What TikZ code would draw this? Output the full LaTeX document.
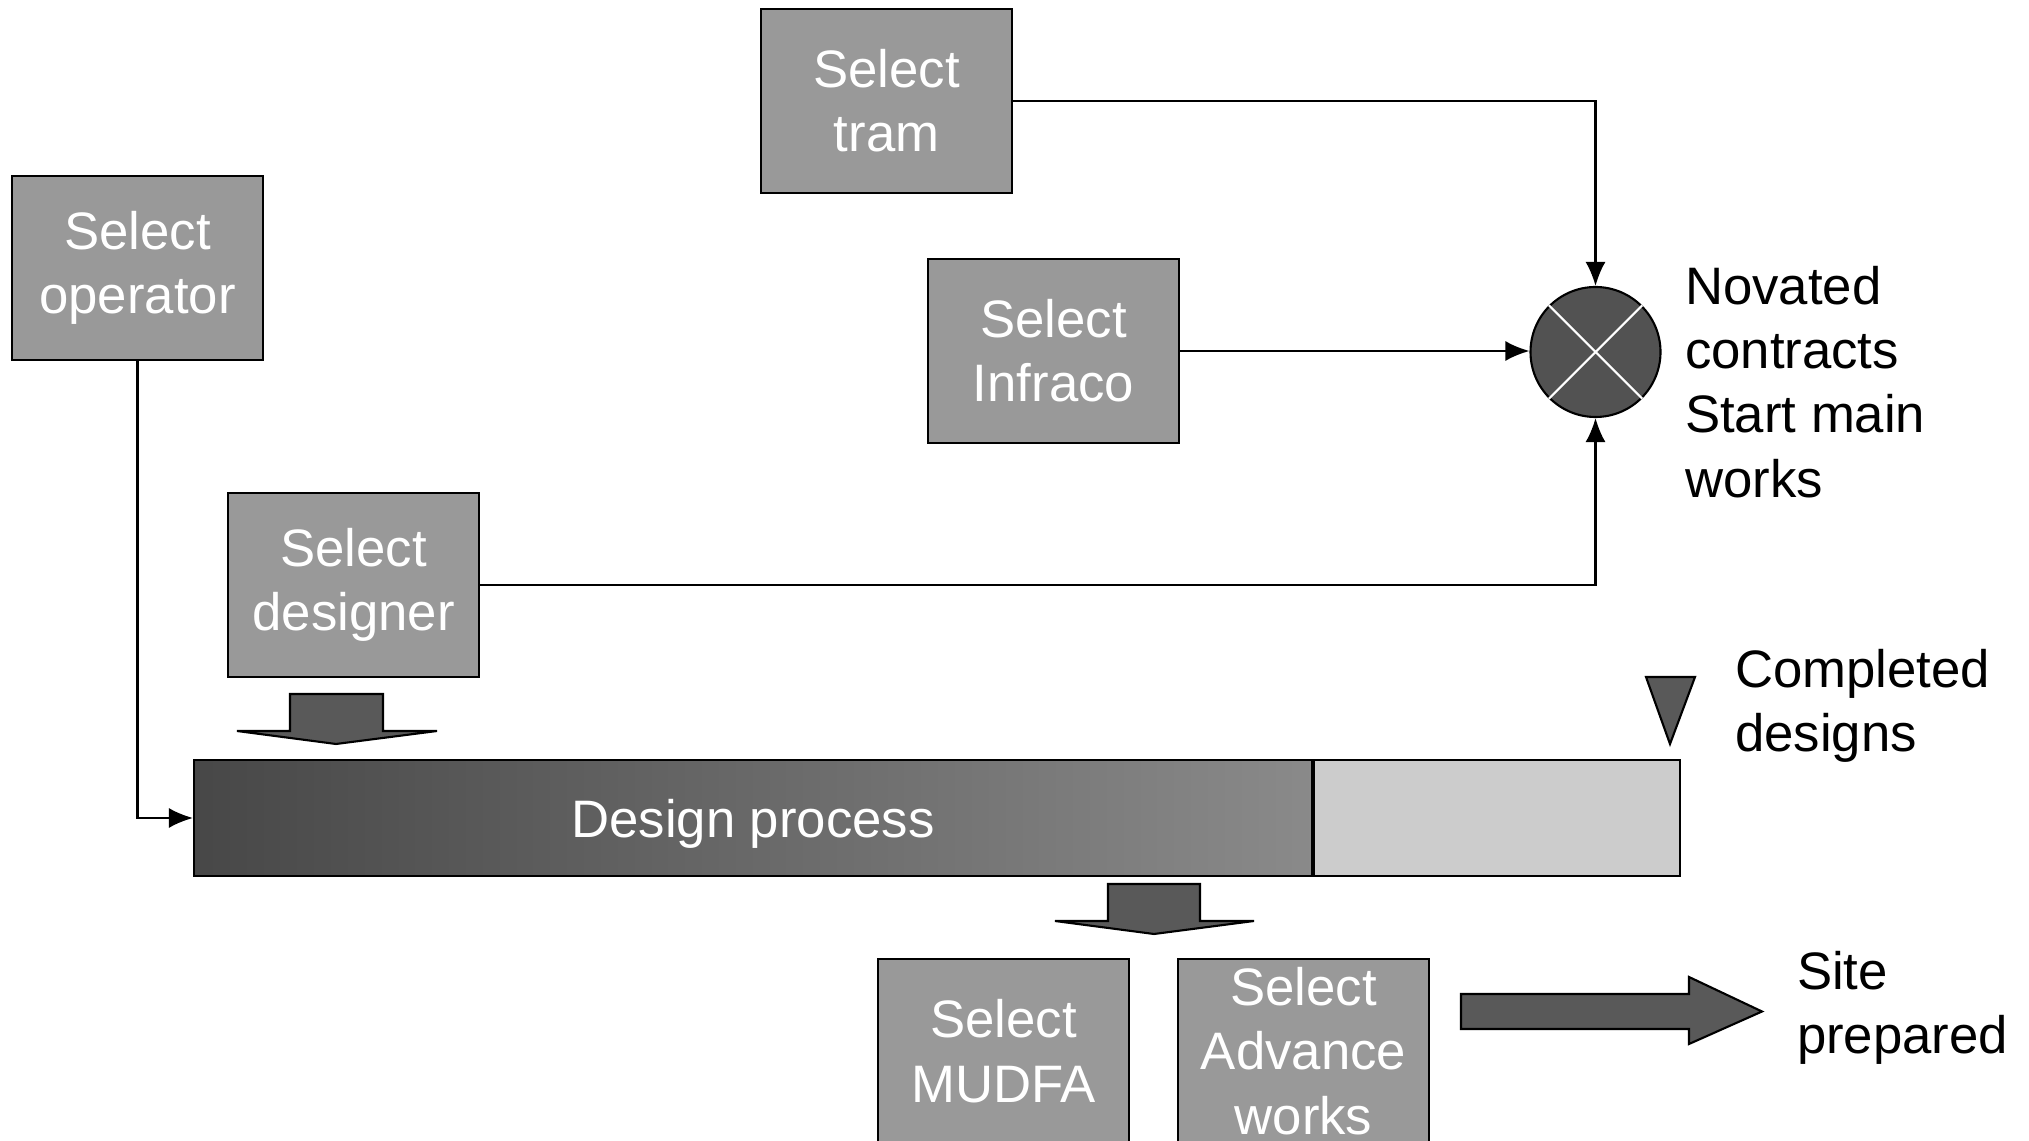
\documentclass[tikz,border=0pt]{standalone}
\usepackage{fontspec}
\setmainfont{Liberation Sans}
\usetikzlibrary{arrows.meta}

\tikzset{
  selbox/.style={draw, fill=black!40, text=white, align=center, inner sep=0pt,
    minimum width=2.51cm, minimum height=1.84cm, font=\fontsize{15}{18.3}\selectfont},
  notetext/.style={anchor=west, align=left, inner sep=0pt, font=\fontsize{15}{18.3}\selectfont},
  blockarr/.style={draw, fill=black!65, line join=miter}
}

\begin{document}
\begin{tikzpicture}[semithick, >={Latex[length=2.4mm,width=2mm]}]
\clip (0,0) rectangle (20.29,11.40);
% selections
\node[selbox] (tram) at (8.865,10.39) {Select\\tram};
\node[selbox] (operator) at (1.375,8.72) {Select\\operator};
\node[selbox] (infraco) at (10.535,7.89) {Select\\Infraco};
\node[selbox] (designer) at (3.535,5.55) {Select\\designer};
\node[selbox] (mudfa) at (10.035,0.89) {Select\\MUDFA};
\node[selbox] (advance) at (13.035,0.89) {Select\\Advance\\works};
% novated contracts
\node[circle, draw, fill=black!68, minimum size=1.3cm, inner sep=0pt] (novate) at (15.955,7.88) {};
\draw[white] (novate.north west) -- (novate.south east) (novate.north east) -- (novate.south west);
\node[notetext] (novtext) at (16.84,7.58) {Novated\\contracts\\Start main\\works};
\draw[->] (tram.east) -| (novate.north);
\draw[->] (infraco.east) -- (infraco.east -| novate.west);
\draw[->] (designer.east) -| (novate.south);
% design process bar
\node[draw, minimum width=11.18cm, minimum height=1.16cm, left color=black!72, middle color=black!50, right color=black!46,
  text=white, text depth=0pt, font=\fontsize{15}{18.3}\selectfont] (design) at (7.53,3.22) {Design process};
\node[draw, fill=black!20, anchor=west, minimum width=3.66cm, minimum height=1.16cm] (rest) at (design.east) {};
\draw[->] (operator.south) |- (design.west);
\filldraw[fill=black!65] (16.46,4.63) -- (16.95,4.63) -- (16.70,3.96) -- cycle;
\node[notetext] (comptext) at (17.34,4.34) {Completed\\designs};
% block arrows
\draw[blockarr] (2.90,4.46) -- (3.83,4.46) -- (3.83,4.09) -- (4.37,4.09) -- (3.36,3.96) -- (2.37,4.09) -- (2.90,4.09) -- cycle;
\draw[blockarr] (11.08,2.56) -- (12.00,2.56) -- (12.00,2.19) -- (12.54,2.19) -- (11.54,2.06) -- (10.55,2.19) -- (11.08,2.19) -- cycle;
\draw[blockarr] (14.61,1.46) -- (16.89,1.46) -- (16.89,1.63) -- (17.62,1.285) -- (16.89,0.96) -- (16.89,1.11) -- (14.61,1.11) -- cycle;
\node[notetext] (sitetext) at (17.96,1.32) {Site\\prepared};
\end{tikzpicture}
\end{document}
